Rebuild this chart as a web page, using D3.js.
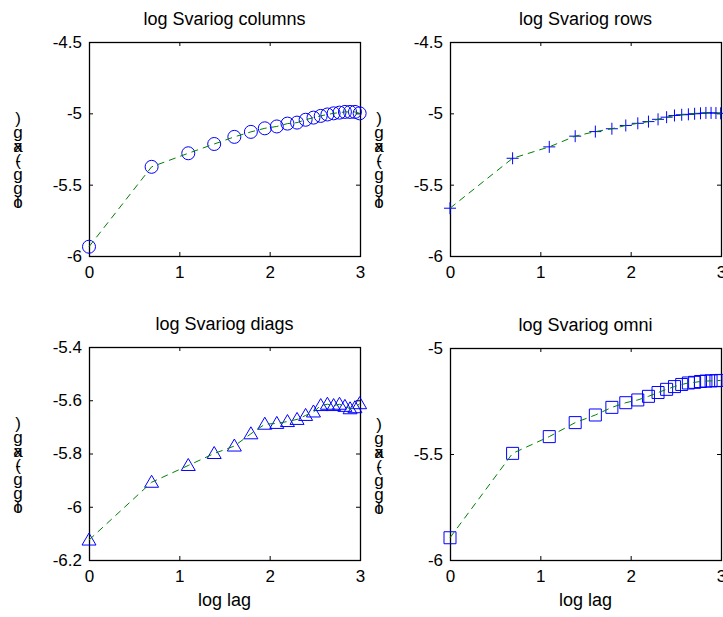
<!DOCTYPE html>
<html>
<head>
<meta charset="utf-8">
<script src="https://cdn.jsdelivr.net/npm/d3@7"></script>
<style>
  body { margin: 0; background: #fff; }
  svg { display: block; font-family: "Liberation Sans", Arial, sans-serif; }
</style>
</head>
<body>
<svg id="chart" width="723" height="617"></svg>
<script>
const LAGS = [0, 0.693, 1.099, 1.386, 1.609, 1.792, 1.946, 2.079, 2.197, 2.303,
  2.398, 2.485, 2.565, 2.639, 2.708, 2.773, 2.833, 2.890, 2.944, 2.996];

const COLUMNS = [-5.935, -5.375, -5.28, -5.215, -5.165, -5.13, -5.105, -5.092, -5.072, -5.065,
  -5.045, -5.03, -5.018, -5.008, -5.0, -4.995, -4.99, -4.99, -4.99, -5.0];
const ROWS = [-5.665, -5.315, -5.235, -5.16, -5.128, -5.108, -5.085, -5.07, -5.058, -5.042,
  -5.027, -5.015, -5.01, -5.007, -5.003, -5.0, -4.997, -4.997, -4.998, -5.0];
const DIAGS = [-6.125, -5.908, -5.845, -5.8, -5.772, -5.726, -5.69, -5.687, -5.68, -5.672,
  -5.657, -5.644, -5.62, -5.615, -5.62, -5.615, -5.623, -5.632, -5.628, -5.613];
const OMNI = [-5.895, -5.497, -5.418, -5.352, -5.316, -5.28, -5.258, -5.245, -5.228, -5.21,
  -5.195, -5.182, -5.172, -5.165, -5.162, -5.158, -5.156, -5.155, -5.154, -5.153];

const TITLES = ['log Svariog columns', 'log Svariog rows', 'log Svariog diags', 'log Svariog omni'];
const X_TICKS = [0, 1, 2, 3];
const Y_TICKS_TOP = [-6, -5.5, -5, -4.5];
const Y_TICKS_DIAGS = [-6.2, -6, -5.8, -5.6, -5.4];
const Y_TICKS_OMNI = [-6, -5.5, -5];
const X_LABEL = 'log lag';

// garbled vertical y label, glyphs stacked bottom to top (overlapping pairs share a slot)
const Y_LABEL_GLYPHS = [['l', 'o'], ['g'], ['g'], ['(', '-'], ['a', 'x'], ['g'], [')']];

const MARKERS = {
  plus: 'M-6,0H6M0,-6V6',
  triangle: 'M0,-7L7,5H-7Z',
  square: 'M-6,-6H6V6H-6Z',
};

const panels = [
  { title: TITLES[0], values: COLUMNS, marker: 'circle', yDomain: [-6, -4.5], yTicks: Y_TICKS_TOP,
    left: 89, right: 360, top: 42, bottom: 256, xLabel: false },
  { title: TITLES[1], values: ROWS, marker: 'plus', yDomain: [-6, -4.5], yTicks: Y_TICKS_TOP,
    left: 450, right: 721, top: 42, bottom: 256, xLabel: false },
  { title: TITLES[2], values: DIAGS, marker: 'triangle', yDomain: [-6.2, -5.4], yTicks: Y_TICKS_DIAGS,
    left: 89, right: 360, top: 347, bottom: 560, xLabel: true },
  { title: TITLES[3], values: OMNI, marker: 'square', yDomain: [-6, -5], yTicks: Y_TICKS_OMNI,
    left: 450, right: 721, top: 348, bottom: 560, xLabel: true },
];

const svg = d3.select('#chart');
const FONT = 17;
const TICK = 4;
const fmt = (d) => String(d);

panels.forEach((p) => {
  const x = d3.scaleLinear().domain([0, 3]).range([p.left, p.right]);
  const y = d3.scaleLinear().domain(p.yDomain).range([p.bottom, p.top]);
  const g = svg.append('g');

  // box
  g.append('rect')
    .attr('x', p.left + 0.5)
    .attr('y', p.top + 0.5)
    .attr('width', p.right - p.left)
    .attr('height', p.bottom - p.top)
    .attr('fill', 'none')
    .attr('stroke', '#000')
    .attr('stroke-width', 1.3);

  const styleAxis = (sel) => {
    sel.attr('font-family', null);
    sel.select('.domain').remove();
    sel.selectAll('line').attr('stroke', '#000');
    sel.selectAll('text').attr('fill', '#000').attr('font-size', FONT);
  };

  g.append('g')
    .attr('transform', `translate(0,${p.bottom})`)
    .call(d3.axisBottom(x).tickValues(X_TICKS).tickFormat(fmt).tickSize(-TICK).tickPadding(10))
    .call(styleAxis);
  g.append('g')
    .attr('transform', `translate(0,${p.top})`)
    .call(d3.axisTop(x).tickValues(X_TICKS).tickFormat('').tickSize(-TICK))
    .call(styleAxis);
  g.append('g')
    .attr('transform', `translate(${p.left},0)`)
    .call(d3.axisLeft(y).tickValues(p.yTicks).tickFormat(fmt).tickSize(-TICK).tickPadding(7))
    .call(styleAxis);
  g.append('g')
    .attr('transform', `translate(${p.right},0)`)
    .call(d3.axisRight(y).tickValues(p.yTicks).tickFormat('').tickSize(-TICK))
    .call(styleAxis);

  // title
  g.append('text')
    .attr('x', (p.left + p.right) / 2)
    .attr('y', p.top - 17)
    .attr('text-anchor', 'middle')
    .attr('font-size', 18)
    .text(p.title);

  if (p.xLabel) {
    g.append('text')
      .attr('x', (p.left + p.right) / 2)
      .attr('y', p.bottom + 46)
      .attr('text-anchor', 'middle')
      .attr('font-size', 18)
      .text(X_LABEL);
  }

  // stacked y label
  const lx = p.left - 71;
  const lBottom = p.top + 166;
  Y_LABEL_GLYPHS.forEach((slot, i) => {
    slot.forEach((ch) => {
      g.append('text')
        .attr('x', lx)
        .attr('y', lBottom - i * 14)
        .attr('text-anchor', 'middle')
        .attr('font-size', FONT)
        .text(ch);
    });
  });

  const pts = LAGS.map((l, i) => [l, p.values[i]]);

  // markers
  const mk = g.append('g')
    .attr('fill', 'none')
    .attr('stroke', '#0000ff')
    .attr('stroke-width', 1);
  if (p.marker === 'circle') {
    mk.selectAll('circle').data(pts).join('circle')
      .attr('cx', (d) => x(d[0]))
      .attr('cy', (d) => y(d[1]))
      .attr('r', 6.5);
  } else {
    mk.selectAll('path').data(pts).join('path')
      .attr('transform', (d) => `translate(${x(d[0])},${y(d[1])})`)
      .attr('d', MARKERS[p.marker]);
  }

  // dashed green line
  g.append('path')
    .datum(pts)
    .attr('fill', 'none')
    .attr('stroke', '#008000')
    .attr('stroke-width', 1)
    .attr('stroke-dasharray', '7,5')
    .attr('d', d3.line().x((d) => x(d[0])).y((d) => y(d[1])));
});
</script>
</body>
</html>
